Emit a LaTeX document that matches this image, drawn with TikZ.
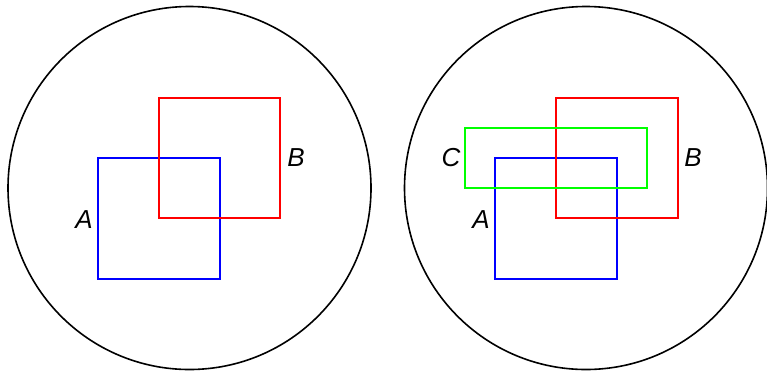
\documentclass[tikz,border=0pt]{standalone}
\usepackage{fontspec}
\setmainfont{Liberation Sans}
\usetikzlibrary{positioning}
\definecolor{setred}{HTML}{FF0000}
\definecolor{setblue}{HTML}{0000FF}
\definecolor{setgreen}{HTML}{00FF00}
\tikzset{
  universe/.style={draw=black,line width=1.6pt},
  setbox/.style={line width=1.8pt},
  setlabel/.style={font=\fontsize{26}{30}\selectfont\itshape,inner sep=0pt}
}

\begin{document}
\begin{tikzpicture}[x=1pt,y=-1pt]
\useasboundingbox (0,0) rectangle (767,370);
% left universe
\draw[universe] (189.5,188) circle (181.5);
\draw[setbox,draw=setblue] (98,158) rectangle (220,279);
\draw[setbox,draw=setred] (159,98) rectangle (280,218);
\node[setlabel] (la) at (84,220) {A};
\node[setlabel] (lb) at (296,158) {B};
% right universe
\draw[universe] (586,188) circle (181.5);
\draw[setbox,draw=setblue] (495,158) rectangle (617,279);
\draw[setbox,draw=setred] (556,98) rectangle (678,218);
\draw[setbox,draw=setgreen] (465,128) rectangle (647,188);
\node[setlabel] (rc) at (451,158) {C};
\node[setlabel] (rb) at (693,158) {B};
\node[setlabel] (ra) at (481,220) {A};
\end{tikzpicture}
\end{document}
